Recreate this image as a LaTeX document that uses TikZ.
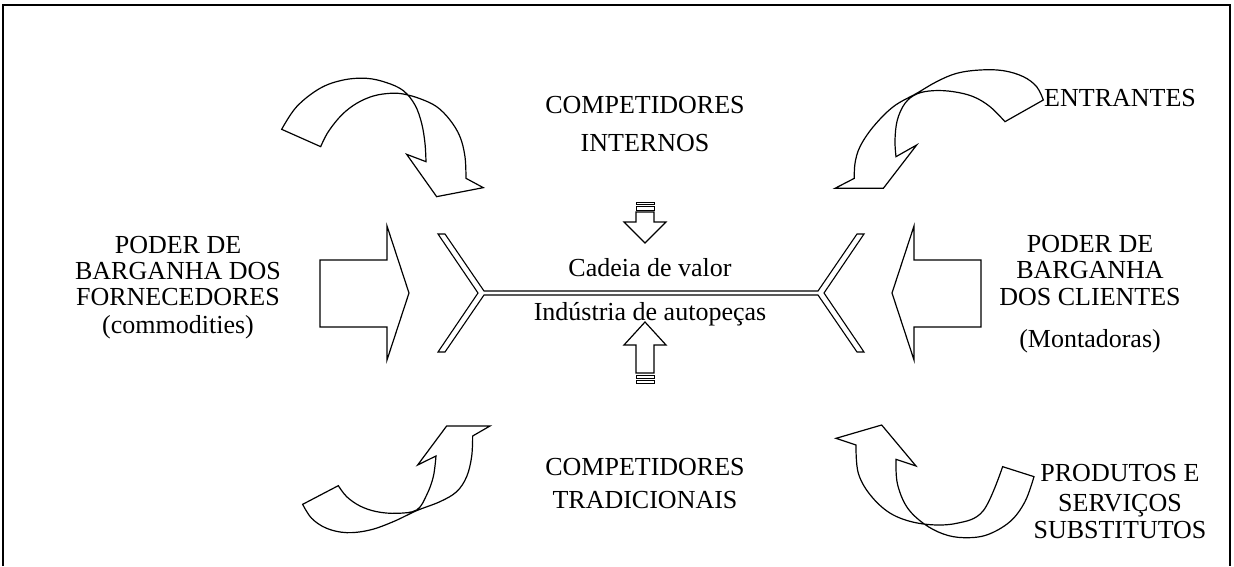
\documentclass[tikz,border=0pt]{standalone}
\usepackage{fontspec}
\setmainfont{Liberation Serif}
\begin{document}
\begin{tikzpicture}[x=1pt,y=-1pt,
  shapeline/.style={draw=black,line width=1.2pt,fill=white,line join=miter},
  stripe/.style={draw=black,line width=0.8pt,fill=white},
  lbl/.style={font=\fontsize{26}{30}\selectfont,inner sep=0pt,anchor=base}]
\useasboundingbox (0,0) rectangle (1234,566);
% frame
\draw[line width=1.6pt] (3,566) -- (3,5) -- (1230,5) -- (1230,566);

% value chain bone
\draw[shapeline,line width=1.1pt] (438,234) -- (445,234) -- (484,291) -- (818,291) -- (857,234) -- (864,234)
  -- (824,293) -- (864,352) -- (857,352) -- (818,295) -- (484,295) -- (445,352) -- (438,352) -- (478,293) -- cycle;

% big arrows
\draw[shapeline] (320,260) -- (387,260) -- (387,226) -- (409,293) -- (387,360) -- (387,327) -- (320,327) -- cycle;
\draw[shapeline] (981,260) -- (914,260) -- (914,226) -- (892,293) -- (914,360) -- (914,327) -- (981,327) -- cycle;

% small striped arrows
\draw[stripe] (636,202) rectangle (654,204.5);
\draw[stripe] (636,206.5) rectangle (654,210);
\draw[shapeline] (636,212) -- (654,212) -- (654,222) -- (666,222) -- (645,243) -- (624,222) -- (636,222) -- cycle;
\draw[stripe] (636,383) rectangle (654,380.5);
\draw[stripe] (636,378.5) rectangle (654,375);
\draw[shapeline] (636,373) -- (654,373) -- (654,345) -- (666,345) -- (645,322) -- (624,345) -- (636,345) -- cycle;

% curved arrow top-left
\begin{scope}[shift={(270,60)},scale=0.3333]
\draw[shapeline] (35,208) -- plot[smooth,tension=0.6] coordinates {(35,208) (80,140) (150,85) (220,60) (290,55) (350,68) (400,92) (435,135) (455,190) (465,250) (468,305)}
  -- (410,283) -- (500,410) -- (640,383) -- (588,355)
  -- plot[smooth,tension=0.6] coordinates {(588,355) (585,290) (570,230) (540,180) (500,140) (450,116) (400,102) (360,100) (310,108) (260,130) (215,165) (175,215) (152,260)}
  -- cycle;
\end{scope}

% curved arrow top-right
\begin{scope}[shift={(820,60)},scale=0.3333]
\draw[shapeline] (670,120) -- plot[smooth,tension=0.6] coordinates {(670,120) (650,80) (610,50) (550,32) (480,30) (410,40) (350,65) (290,100) (220,140) (160,200) (120,260) (105,310) (103,355)}
  -- (45,385) -- (190,385) -- (290,255) -- (228,290)
  -- plot[smooth,tension=0.6] coordinates {(228,290) (225,240) (232,180) (255,130) (290,102) (340,92) (400,95) (460,110) (510,140) (555,185)}
  -- cycle;
\end{scope}

% curved arrow bottom-left
\begin{scope}[shift={(280,350)},scale=0.3333]
\draw[shapeline] (578,258) -- plot[smooth,tension=0.6] coordinates {(578,258) (575,320) (560,380) (530,425) (480,455) (410,482) (340,515) (270,540) (200,548) (140,535) (95,505) (68,463)}
  -- (175,407)
  -- plot[smooth,tension=0.6] coordinates {(175,407) (200,440) (240,468) (290,485) (350,490) (410,480) (440,435) (460,380) (468,318)}
  -- (413,345) -- (500,228) -- (630,228) -- cycle;
\end{scope}

% curved arrow bottom-right
\begin{scope}[shift={(810,350)},scale=0.3333]
\draw[shapeline] (138,285) -- (78,265) -- (215,225) -- (318,348) -- (258,328)
  -- plot[smooth,tension=0.6] coordinates {(258,328) (262,400) (290,470) (340,520) (400,552) (460,563) (530,555) (600,515) (645,455) (672,380)}
  -- (578,350)
  -- plot[smooth,tension=0.6] coordinates {(578,350) (520,482) (440,520) (340,522) (250,495) (185,440) (145,370) (138,285)}
  -- cycle;
\end{scope}

% texts
\node[lbl] (l1) at (178,253) {PODER DE};
\node[lbl] (l2) at (178,279) {BARGANHA DOS};
\node[lbl] (l3) at (178,305) {FORNECEDORES};
\node[lbl] (l4) at (178,333) {(commodities)};

\node[lbl] (r1) at (1090,252) {PODER DE};
\node[lbl] (r2) at (1090,278) {BARGANHA};
\node[lbl] (r3) at (1090,305) {DOS CLIENTES};
\node[lbl] (r4) at (1090,347) {(Montadoras)};

\node[lbl] (t1) at (645,113) {COMPETIDORES};
\node[lbl] (t2) at (645,151) {INTERNOS};
\node[lbl] (b1) at (645,475) {COMPETIDORES};
\node[lbl] (b2) at (645,508) {TRADICIONAIS};

\node[lbl] (c1) at (650,276) {Cadeia de valor};
\node[lbl] (c2) at (650,320) {Indústria de autopeças};

\node[lbl,anchor=base west] (e1) at (1044,106) {ENTRANTES};
\node[lbl] (p1) at (1120,481) {PRODUTOS E};
\node[lbl] (p2) at (1120,511) {SERVIÇOS};
\node[lbl] (p3) at (1120,538) {SUBSTITUTOS};
\end{tikzpicture}
\end{document}
